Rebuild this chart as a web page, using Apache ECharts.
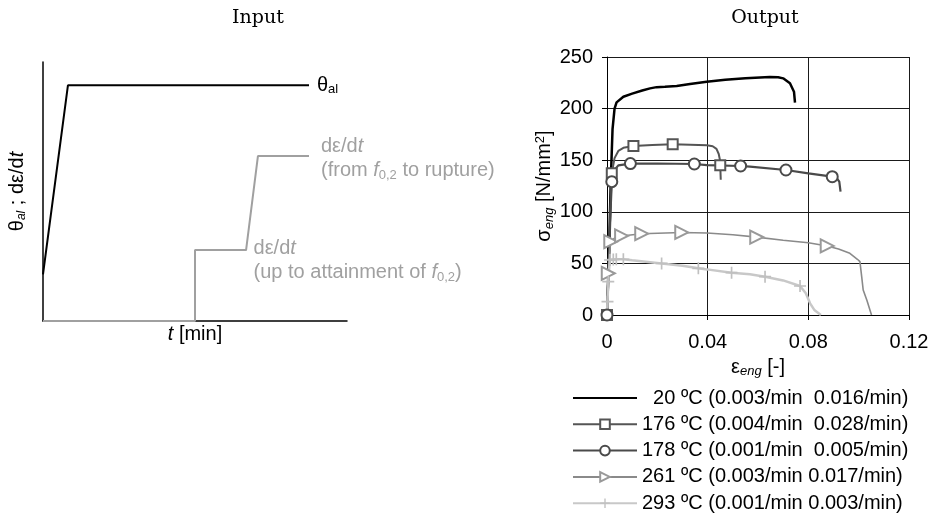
<!DOCTYPE html>
<html>
<head>
<meta charset="utf-8">
<script src="https://cdn.jsdelivr.net/npm/echarts@6/dist/echarts.min.js"></script>
<style>
  html, body { margin: 0; padding: 0; background: #fff; }
  #main { width: 938px; height: 519px; }
</style>
</head>
<body>
<div id="main"></div>
<script>
// ---- datos del esquema "Input" (unidades arbitrarias) ----
const thetaTime = [0, 0.82, 8.75];
const thetaLevel = [18, 91, 91];
const rateTime = [0, 5, 5, 6.68, 7.07, 8.75];
const rateLevel = [0, 0, 27.4, 27.4, 63.7, 63.7];

// ---- curvas tensión-deformación "Output" [eps, sigma] ----
const seriesNames = [
  "  20 ºC (0.003/min  0.016/min)",
  "176 ºC (0.004/min  0.028/min)",
  "178 ºC (0.001/min  0.005/min)",
  "261 ºC (0.003/min 0.017/min)",
  "293 ºC (0.001/min 0.003/min)"
];

const curve20 = [
  [0, 0], [0.0008, 60], [0.0015, 130], [0.0022, 180], [0.003, 200], [0.0038, 206],
  [0.0065, 211.5], [0.010, 214.5], [0.014, 217.5], [0.0171, 219.6], [0.0197, 220.8],
  [0.023, 221.2], [0.0277, 221.9], [0.033, 223.8], [0.0396, 226], [0.047, 228],
  [0.055, 229.5], [0.0647, 230.6], [0.068, 230.4], [0.070, 229.3], [0.0727, 224.5],
  [0.0743, 216.4], [0.0747, 205.7]
];
const marks20 = [];

const curve176 = [
  [0, 0], [0.0008, 60], [0.0014, 105], [0.0019, 137.3], [0.003, 152], [0.0045, 159],
  [0.0065, 162], [0.0105, 163.8], [0.018, 164.8], [0.0261, 165.4], [0.033, 165],
  [0.0397, 164.5], [0.042, 163.5], [0.0435, 161], [0.0444, 156], [0.0449, 150],
  [0.045, 145], [0.0451, 138], [0.0452, 131]
];
const marks176 = [[0, 0], [0.0019, 137.3], [0.0105, 163.8], [0.0261, 165.4], [0.045, 145]];

const curve178 = [
  [0, 0], [0.0008, 55], [0.0014, 100], [0.0019, 129.2], [0.0028, 140], [0.0045, 145],
  [0.0093, 146.7], [0.02, 146.8], [0.0347, 146.3], [0.0397, 145.3], [0.0531, 144.4],
  [0.0568, 143.7], [0.0711, 140.5], [0.08, 137.3], [0.0895, 134], [0.0915, 132],
  [0.0923, 129.2], [0.0928, 119.5]
];
const marks178 = [[0, 0], [0.0019, 129.2], [0.0093, 146.7], [0.0347, 146.3], [0.0531, 144.4], [0.0711, 140.5], [0.0895, 134]];

const curve261 = [
  [0, 0], [0.0003, 20], [0.0005, 40.4], [0.0009, 58], [0.0015, 71], [0.003, 74.5],
  [0.0058, 76.6], [0.0138, 78.8], [0.0297, 80], [0.0397, 79.5], [0.05, 77.8],
  [0.0595, 75.5], [0.07, 72.5], [0.08, 70], [0.0875, 66.9], [0.092, 64], [0.0965, 59.8],
  [0.0995, 54], [0.1005, 51.7], [0.1012, 37.1], [0.1018, 24.2], [0.1033, 14], [0.1051, 0]
];
const marks261 = [[0.0005, 40.4], [0.0015, 71], [0.0058, 76.6], [0.0138, 78.8], [0.0297, 80], [0.0595, 75.5], [0.0875, 66.9]];

const curve293 = [
  [0, 0], [0.0002, 12.9], [0.0005, 32.3], [0.0009, 46], [0.0012, 53.3], [0.0025, 53.8],
  [0.0037, 54], [0.0065, 54], [0.01, 53], [0.0217, 50], [0.03, 47.8], [0.0363, 45.2],
  [0.0397, 44.2], [0.0495, 41], [0.0568, 39.5], [0.0628, 37.1], [0.07, 33.5],
  [0.0767, 28.1], [0.079, 21], [0.0807, 11.3], [0.0825, 4.5], [0.085, 0]
];
const marks293 = [[0.0002, 12.9], [0.0005, 32.3], [0.0012, 53.3], [0.0025, 53.8], [0.0037, 54], [0.0065, 54], [0.0217, 50], [0.0363, 45.2], [0.0495, 41], [0.0628, 37.1], [0.0767, 28.1]];

const xTicks = [0, 0.04, 0.08, 0.12];
const yTicks = [0, 50, 100, 150, 200, 250];

// ---- estilos ----
const FONT = "Liberation Sans";
const GRAY_TXT = "#a0a0a0";
const sub = (size, color) => ({ fontFamily: FONT, fontSize: size, color: color, verticalAlign: "bottom", lineHeight: 14 });
const plusSymbol = "path://M4.3,0H5.7V4.3H10V5.7H5.7V10H4.3V5.7H0V4.3H4.3Z";
// icono de leyenda: sólo línea (puntos mínimos en las esquinas fijan la caja 64x12)
const lineIcon = "path://M0,0h0.001v0.001h-0.001z M0,5h64v2h-64z M63.999,11.999h0.001v0.001h-0.001z";

// puntos de la curva; sólo los marcados llevan símbolo
const buildData = (curve, marks) =>
  curve.map((p) => {
    const hit = marks.some((m) => m[0] === p[0] && m[1] === p[1]);
    return hit ? { value: p } : { value: p, symbol: "none" };
  });

const zip = (a, b) => a.map((v, i) => [v, b[i]]);

const chart = echarts.init(document.getElementById("main"));

const annoStyle = {
  color: GRAY_TXT,
  fontFamily: FONT,
  fontSize: 20,
  lineHeight: 24,
  rich: {
    i: { fontFamily: FONT, fontSize: 20, fontStyle: "italic", color: GRAY_TXT, lineHeight: 24 },
    s: sub(13, GRAY_TXT)
  }
};

const rateData = zip(rateTime, rateLevel).map((p) => ({ value: p, symbol: "none" }));
rateData[3] = {
  value: rateData[3].value,
  symbol: "circle",
  symbolSize: 1,
  label: Object.assign({
    show: true,
    position: "right",
    distance: 7,
    offset: [0, 10],
    align: "left",
    formatter: "dε/d{i|t}\n(up to attainment of {i|f}{s|0,2})"
  }, annoStyle)
};

const outSeries = [
  { curve: curve20, marks: marks20, color: "#000", width: 2.5, symbol: "none", size: 0 },
  { curve: curve176, marks: marks176, color: "#555", width: 2, symbol: "emptyRect", size: 10 },
  { curve: curve178, marks: marks178, color: "#4a4a4a", width: 2.2, symbol: "emptyCircle", size: 11 },
  { curve: curve261, marks: marks261, color: "#8a8a8a", width: 1.6, symbol: "emptyTriangle", size: 13, rotate: -90, markColor: "#999" },
  { curve: curve293, marks: marks293, color: "#c8c8c8", width: 2.5, symbol: plusSymbol, size: 12, markColor: "#c0c0c0" }
].map((s, i) => ({
  name: seriesNames[i],
  type: "line",
  xAxisIndex: 1,
  yAxisIndex: 1,
  data: buildData(s.curve, s.marks),
  symbol: s.symbol,
  symbolSize: s.size,
  symbolRotate: s.rotate || 0,
  showSymbol: true,
  showAllSymbol: true,
  clip: false,
  lineStyle: { color: s.color, width: s.width },
  itemStyle: {
    color: s.markColor || s.color,
    borderColor: s.markColor || s.color,
    borderWidth: s.symbol === plusSymbol ? 0 : 1.5
  }
}));

const legendData = seriesNames.map((n, i) =>
  i === 0 ? { name: n, icon: lineIcon, itemStyle: { color: "#000", borderWidth: 0 } } : { name: n });

const titleStyle = { fontFamily: "DejaVu Serif", fontSize: 19, fontWeight: "normal", color: "#000" };

const option = {
  animation: false,
  backgroundColor: "#fff",
  title: [
    { text: "Input", left: 253, top: 4, textAlign: "center", textStyle: titleStyle },
    { text: "Output", left: 760, top: 4, textAlign: "center", textStyle: titleStyle }
  ],
  legend: {
    data: legendData,
    orient: "vertical",
    left: 572,
    top: 388,
    padding: 0,
    itemWidth: 64,
    itemHeight: 12,
    itemGap: 6.3,
    selectedMode: false,
    textStyle: { fontFamily: FONT, fontSize: 20, color: "#000", lineHeight: 20 }
  },
  grid: [
    { left: 43, top: 62, width: 304, height: 259 },
    { left: 607, top: 57, width: 302, height: 258 }
  ],
  xAxis: [
    {
      gridIndex: 0, type: "value", min: 0, max: 10,
      name: "{i|t} [min]", nameLocation: "middle", nameGap: 3,
      nameTextStyle: {
        fontFamily: FONT, fontSize: 20, color: "#000",
        rich: { i: { fontFamily: FONT, fontSize: 20, fontStyle: "italic", color: "#000" } }
      },
      axisLine: { lineStyle: { color: "#000", width: 1.5 } },
      axisTick: { show: false }, axisLabel: { show: false }, splitLine: { show: false }
    },
    {
      gridIndex: 1, type: "value", min: xTicks[0], max: xTicks[xTicks.length - 1], interval: 0.04,
      name: "ε{s|eng} [-]", nameLocation: "middle", nameGap: 41,
      nameTextStyle: {
        fontFamily: FONT, fontSize: 20, color: "#000", lineHeight: 22,
        rich: { s: { fontFamily: FONT, fontSize: 13, fontStyle: "italic", color: "#000", verticalAlign: "bottom", lineHeight: 14 } }
      },
      axisLine: { lineStyle: { color: "#000", width: 1 } },
      axisTick: { show: true, inside: false, length: 5, lineStyle: { color: "#000" } },
      axisLabel: { fontFamily: FONT, fontSize: 20, color: "#000", margin: 17,
        formatter: (v) => String(+v.toFixed(2)) },
      splitLine: { show: true, lineStyle: { color: "#1a1a1a", width: 1 } }
    }
  ],
  yAxis: [
    {
      gridIndex: 0, type: "value", min: 0, max: 100,
      name: "θ{s|al} ; dε/d{i|t}", nameLocation: "middle", nameGap: 15,
      nameTextStyle: {
        fontFamily: FONT, fontSize: 20, color: "#000", lineHeight: 22,
        rich: {
          i: { fontFamily: FONT, fontSize: 20, fontStyle: "italic", color: "#000", lineHeight: 22 },
          s: { fontFamily: FONT, fontSize: 12, fontStyle: "italic", color: "#000", verticalAlign: "bottom", lineHeight: 14 }
        }
      },
      axisLine: { show: true, lineStyle: { color: "#000", width: 1.5 } },
      axisTick: { show: false }, axisLabel: { show: false }, splitLine: { show: false }
    },
    {
      gridIndex: 1, type: "value", min: yTicks[0], max: yTicks[yTicks.length - 1], interval: 50,
      name: "σ{s|eng} [N/mm{p|2}]", nameLocation: "middle", nameGap: 51,
      nameTextStyle: {
        fontFamily: FONT, fontSize: 20, color: "#000", lineHeight: 22,
        rich: {
          s: { fontFamily: FONT, fontSize: 13, fontStyle: "italic", color: "#000", verticalAlign: "bottom", lineHeight: 14 },
          p: { fontFamily: FONT, fontSize: 13, color: "#000", verticalAlign: "top", lineHeight: 14 }
        }
      },
      axisLine: { show: true, lineStyle: { color: "#000", width: 1 } },
      axisTick: { show: true, inside: false, length: 5, lineStyle: { color: "#000" } },
      axisLabel: { fontFamily: FONT, fontSize: 20, color: "#000", margin: 14 },
      splitLine: { show: true, lineStyle: { color: "#1a1a1a", width: 1 } }
    }
  ],
  series: [
    {
      name: "theta", type: "line", xAxisIndex: 0, yAxisIndex: 0,
      data: zip(thetaTime, thetaLevel), symbol: "none",
      lineStyle: { color: "#000", width: 2 },
      endLabel: {
        show: true, distance: 8, formatter: "θ{s|al}",
        fontFamily: FONT, fontSize: 20, color: "#000", lineHeight: 22,
        rich: { s: sub(13, "#000") }
      }
    },
    {
      name: "rate", type: "line", xAxisIndex: 0, yAxisIndex: 0,
      data: rateData, symbol: "circle", showSymbol: true, showAllSymbol: true, clip: false,
      itemStyle: { color: "#a0a0a0" },
      lineStyle: { color: "#a0a0a0", width: 2 },
      endLabel: Object.assign({
        show: true, distance: 12, offset: [0, 2], align: "left",
        formatter: "dε/d{i|t}\n(from {i|f}{s|0,2} to rupture)"
      }, annoStyle)
    },
    ...outSeries
  ]
};

chart.setOption(option);
</script>
</body>
</html>
